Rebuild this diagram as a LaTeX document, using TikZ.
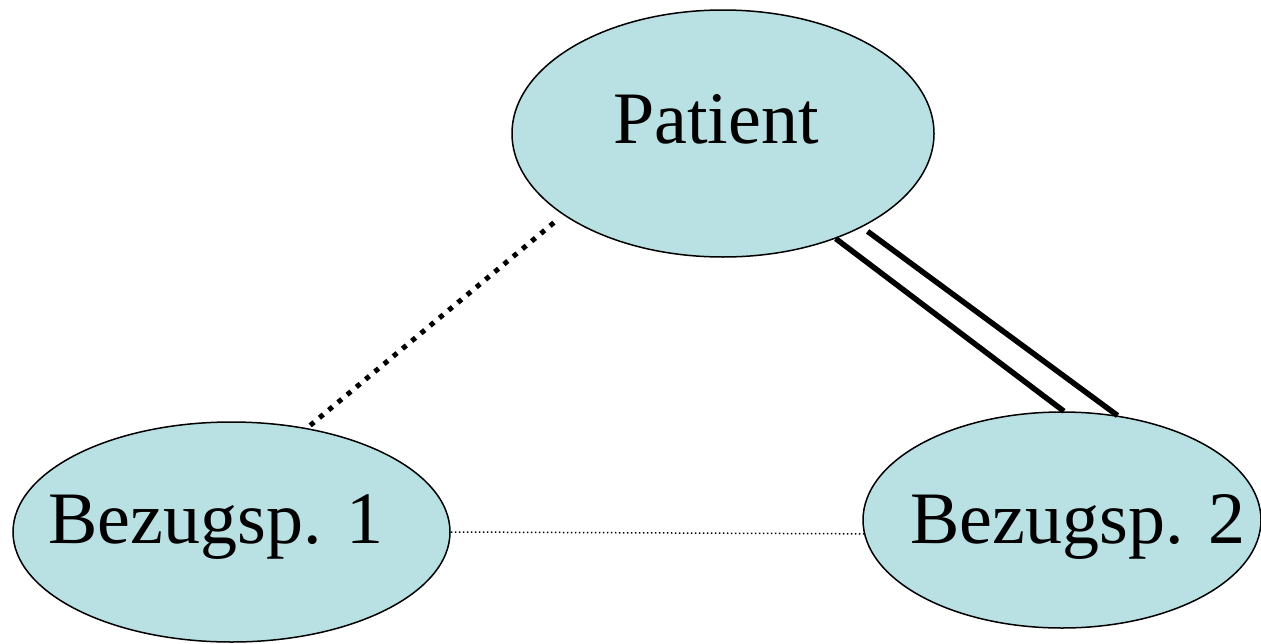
\documentclass[tikz,border=0pt]{standalone}
\usepackage{fontspec}
\setmainfont{Liberation Serif}
\usetikzlibrary{shapes.geometric}
\definecolor{blobfill}{RGB}{185,224,227}
\tikzset{
  person/.style={ellipse, draw, fill=blobfill, line width=1.5pt, inner sep=0pt},
  lbl/.style={anchor=base, inner sep=0pt, font=\fontsize{74}{80}\selectfont},
}

\begin{document}
\begin{tikzpicture}[x=1pt, y=-1pt]
  \useasboundingbox (0,0) rectangle (1261,643);

  \node[person, minimum width=422pt, minimum height=247pt] (pat) at (723,133.5) {};
  \node[person, minimum width=437pt, minimum height=220pt] (bez1) at (231.5,532) {};
  \node[person, minimum width=398pt, minimum height=216pt] (bez2) at (1062,520) {};

  \node[lbl] (patT) at (716,143) {Patient};
  \node[lbl] (bez1T) at (216,543) {Bezugsp. 1};
  \node[lbl] (bez2T) at (1078,543) {Bezugsp. 2};

  \draw[line width=5pt, dash pattern=on 5pt off 7pt, shorten <=12pt] (pat.207.6) -- (bez1.54);
  \draw[line width=1.5pt, dash pattern=on 1.5pt off 2.5pt] (bez1.0) -- (bez2.184);
  \draw[line width=5.5pt] (pat.-43) -- (bez2.89.5);
  \draw[line width=5.5pt, shorten <=7pt] (pat.-34.3) -- (bez2.62.3);
\end{tikzpicture}
\end{document}
